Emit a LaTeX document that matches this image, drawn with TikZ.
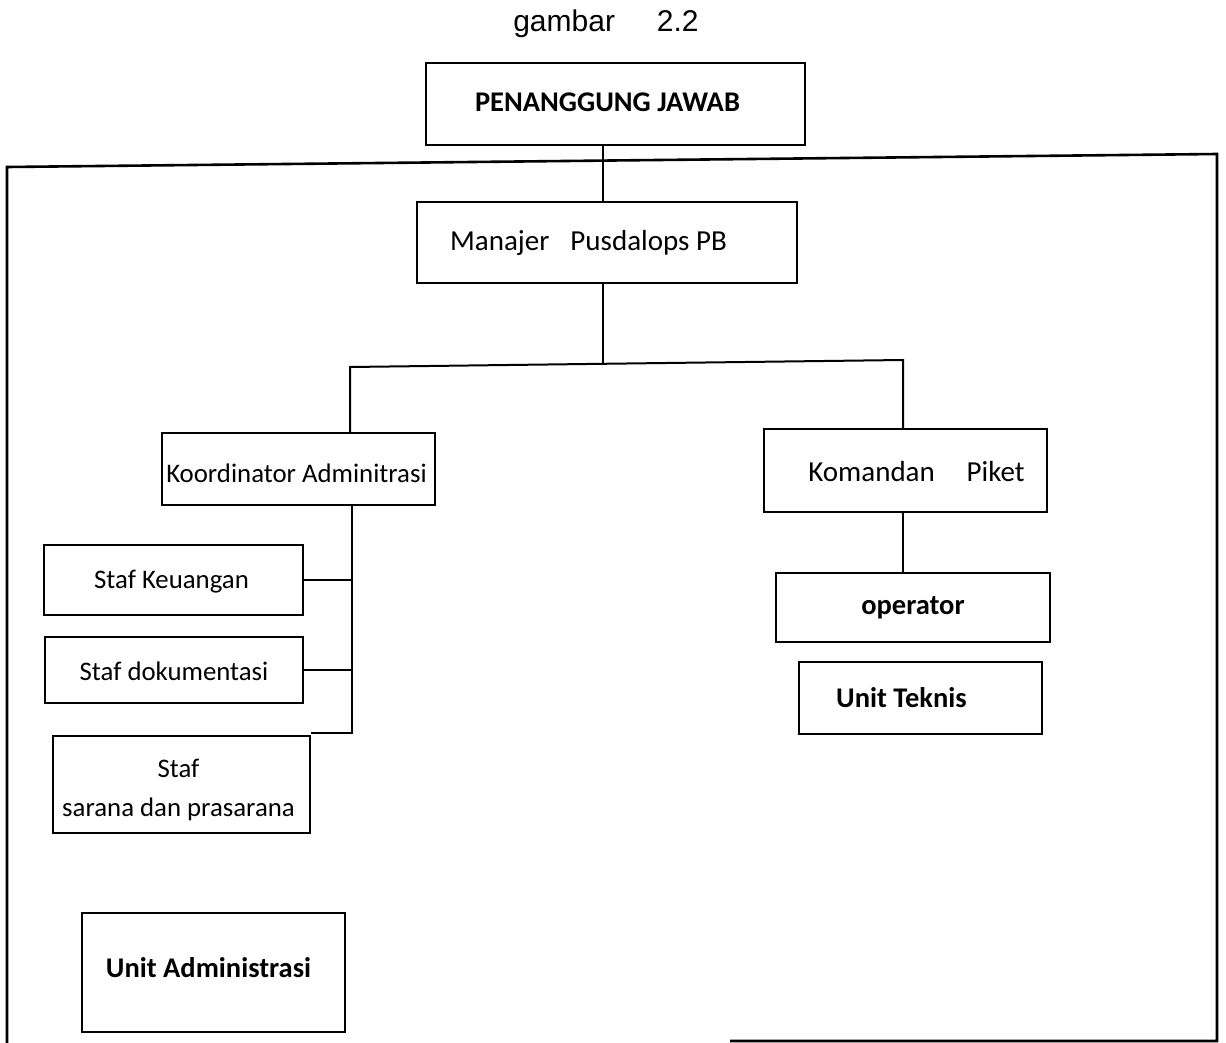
\documentclass[tikz,border=0pt]{standalone}
\usepackage{fontspec}
\setmainfont{Carlito}
\newfontfamily\titlefont{Liberation Sans}
\begin{document}
\begin{tikzpicture}[x=1pt,y=-1pt,
  box/.style={draw,line width=2.3pt,rectangle,inner sep=0pt,anchor=center},
  reg/.style={font=\fontsize{26.8}{30}\selectfont},
  big/.style={font=\fontsize{29}{32}\selectfont},
  bld/.style={font=\fontsize{28.5}{32}\selectfont\bfseries},
  conn/.style={line width=2pt}]
\useasboundingbox (0,0) rectangle (1226,1043);
\fill[white] (0,0) rectangle (1226,1043);

% title
\node[anchor=base,font=\titlefont\fontsize{30}{34}\selectfont] (title) at (606,32) {gambar\hspace{1.4em}2.2};

% outer frame
\coordinate (fa) at (730,1041);
\coordinate (fb) at (1217,1041);
\coordinate (fc) at (1217,154);
\coordinate (fd) at (7,167);
\coordinate (fe) at (7,1043);
\draw[line width=2.6pt] (fa) -- (fb) -- (fc) -- (fd) -- (fe);

% boxes
\node[box,minimum width=379,minimum height=82,
  label={[bld,xshift=-8,yshift=2]center:PENANGGUNG JAWAB}] (pj) at (615.5,104) {};
\node[box,minimum width=380,minimum height=81,
  label={[big,xshift=-18.5]center:Manajer\hspace{0.5em} Pusdalops PB}] (man) at (607,242.5) {};
\node[box,minimum width=273,minimum height=72,
  label={[reg,xshift=-2,yshift=-4]center:Koordinator Adminitrasi}] (koor) at (298.5,469) {};
\node[box,minimum width=283,minimum height=83,
  label={[big,xshift=11,yshift=-1]center:Komandan\hspace{1.1em}Piket}] (kom) at (905.5,470.5) {};
\node[box,minimum width=259,minimum height=70,
  label={[reg,xshift=-2,yshift=-2]center:Staf Keuangan}] (keu) at (173.5,580) {};
\node[box,minimum width=258,minimum height=66,
  label={[reg,yshift=-1]center:Staf dokumentasi}] (dok) at (174,670) {};
\node[box,minimum width=257,minimum height=97,
  label={[reg,xshift=-3,yshift=-5,align=center,font=\fontsize{26.8}{39}\selectfont]center:Staf\\sarana dan prasarana}] (sar) at (181.5,784.5) {};
\node[box,minimum width=274,minimum height=69,
  label={[bld]center:operator}] (op) at (913,607.5) {};
\node[box,minimum width=243,minimum height=72,
  label={[bld,xshift=-19]center:Unit Teknis}] (ut) at (920.5,698) {};
\node[box,minimum width=263,minimum height=119,
  label={[bld,xshift=-5,yshift=5]center:Unit Administrasi}] (ua) at (213.5,972.5) {};

% connectors
\coordinate (bl) at (350,367);
\coordinate (bm) at (603,364);
\coordinate (br) at (903,360);
\coordinate (st) at (352,733);
\draw[conn] (pj.south -| bm) -- (man.north -| bm);
\draw[conn] (man.south -| bm) -- (bm);
\draw[conn] (koor.north -| bl) -- (bl) -- (br) -- (kom.north -| br);
\draw[conn] (kom.south -| br) -- (op.north -| br);
\draw[conn] (koor.south -| st) -- (st) -- (sar.north east |- st);
\draw[conn] (keu.east) -- (keu.east -| st);
\draw[conn] (dok.east) -- (dok.east -| st);
\end{tikzpicture}
\end{document}
